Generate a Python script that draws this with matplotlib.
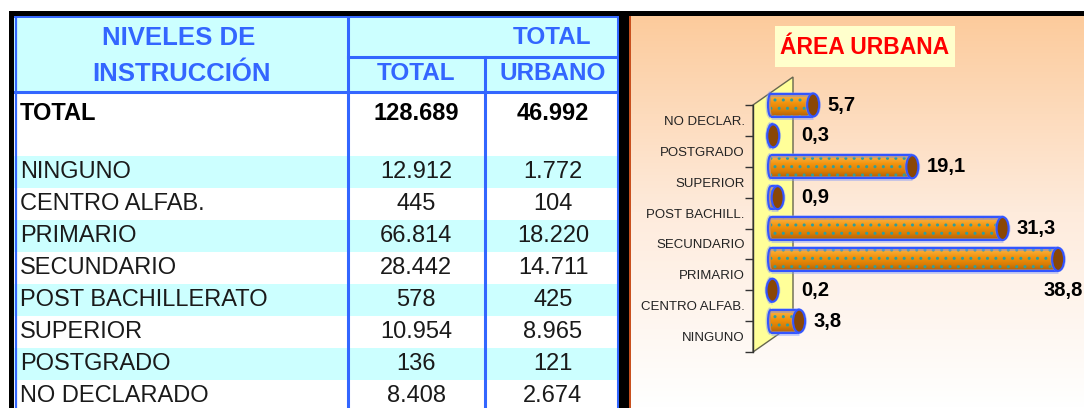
import numpy as np
import matplotlib
matplotlib.use("Agg")
import matplotlib.pyplot as plt
from matplotlib.patches import Rectangle, Ellipse, Polygon, Arc
from matplotlib.colors import LinearSegmentedColormap

plt.rcParams['font.family'] = ['Liberation Sans', 'DejaVu Sans']

# table data
levels = ["NINGUNO", "CENTRO ALFAB.", "PRIMARIO", "SECUNDARIO",
          "POST BACHILLERATO", "SUPERIOR", "POSTGRADO", "NO DECLARADO"]
total_vals = [12912, 445, 66814, 28442, 578, 10954, 136, 8408]
urban_vals = [1772, 104, 18220, 14711, 425, 8965, 121, 2674]
total_sum = 128689
urban_sum = 46992

# chart data (% of urban population), bottom to top
chart_labels = ["NINGUNO", "CENTRO ALFAB.", "PRIMARIO", "SECUNDARIO",
                "POST BACHILL.", "SUPERIOR", "POSTGRADO", "NO DECLAR."]
urban_pct = [3.8, 0.2, 38.8, 31.3, 0.9, 19.1, 0.3, 5.7]


def fmt(n):
    return f"{n:,}".replace(",", ".")


W, H = 1084, 408
fig = plt.figure(figsize=(W / 100, H / 100), dpi=100)

# background layer in pixel coordinates
bg = fig.add_axes([0, 0, 1, 1])
bg.axis('off')

# chart panel gradient
peach = LinearSegmentedColormap.from_list('peach', ['#FFFFFF', '#FEEBDC', '#FCCB9C'])
grad = np.linspace(0, 1, 256)[:, None]
bg.imshow(grad, extent=(630, W, H, 16), cmap=peach, aspect='auto', origin='lower', zorder=0)

# black frame
bg.add_patch(Rectangle((9, 11), W - 9, 5, color='black', lw=0, zorder=5))
bg.add_patch(Rectangle((9, 11), 5, H - 11, color='black', lw=0, zorder=5))
bg.add_patch(Rectangle((619, 11), 10, H - 11, color='black', lw=0, zorder=5))
bg.add_patch(Rectangle((629, 16), 1.6, H - 16, color='#C8501E', lw=0, zorder=5))

# table
cyan = '#CCFFFF'
blue = '#3366FF'
tx0, tx1 = 14, 619
c1, c2 = 347.5, 484.5
head_top, head_mid, head_bot = 16, 57, 91.5
row0, row_h = 156, 32
col2_x, col3_x = 416, 553

bg.add_patch(Rectangle((tx0, head_top), tx1 - tx0, head_bot - head_top, color=cyan, lw=0, zorder=1))
for i in range(len(levels)):
    if i % 2 == 0:
        bg.add_patch(Rectangle((tx0, row0 + i * row_h), tx1 - tx0, row_h, color=cyan, lw=0, zorder=1))

lw = 2.2
bg.plot([15.5, 15.5], [head_top, H], color=blue, lw=1.6, zorder=3)
bg.plot([tx0, tx1], [16.8, 16.8], color=blue, lw=1.4, zorder=3)
bg.plot([617.5, 617.5], [head_top, H], color=blue, lw=lw, zorder=3)
bg.plot([tx0, tx1], [head_bot, head_bot], color=blue, lw=lw, zorder=3)
bg.plot([c1, c1], [head_top, H], color=blue, lw=lw, zorder=3)
bg.plot([c2, c2], [head_mid, H], color=blue, lw=lw, zorder=3)
bg.plot([c1, tx1], [head_mid, head_mid], color=blue, lw=lw, zorder=3)

head_kw = dict(color=blue, fontweight='bold', ha='center', va='center', zorder=4)
bg.text(179, 38, "NIVELES DE", fontsize=18.5, **head_kw)
bg.text(182, 74, "INSTRUCCIÓN", fontsize=18.5, **head_kw)
bg.text(552, 38, "TOTAL", fontsize=17.5, **head_kw)
bg.text(col2_x, 74, "TOTAL", fontsize=17.5, **head_kw)
bg.text(col3_x, 74, "URBANO", fontsize=17.5, **head_kw)

tot_kw = dict(color='black', fontweight='bold', fontsize=17, va='center', zorder=4)
bg.text(20, 114, "TOTAL", ha='left', **tot_kw)
bg.text(col2_x, 114, fmt(total_sum), ha='center', **tot_kw)
bg.text(col3_x, 114, fmt(urban_sum), ha='center', **tot_kw)

row_kw = dict(color='#1A1A1A', fontsize=17, va='center', zorder=4)
for i, (name, t, u) in enumerate(zip(levels, total_vals, urban_vals)):
    y = row0 + i * row_h + 16
    bg.text(20, y, name, ha='left', **row_kw)
    bg.text(col2_x, y, fmt(t), ha='center', **row_kw)
    bg.text(col3_x, y, fmt(u), ha='center', **row_kw)

# chart title
bg.add_patch(Rectangle((775, 26), 180, 41, fc='#FFFFCC', lw=0, zorder=2))
bg.text(865, 47, "ÁREA URBANA", color='#FF0000', fontsize=16.5, fontweight='bold',
        ha='center', va='center', zorder=3)

bg.set_xlim(0, W)
bg.set_ylim(H, 0)

# bar chart
ax_left_px, x0_px, px_per_unit = 753, 771, 7.4
ax_top_px, ax_bot_px = 105, 352
n = len(chart_labels)
ax = fig.add_axes([ax_left_px / W, 1 - ax_bot_px / H,
                   (W - ax_left_px) / W, (ax_bot_px - ax_top_px) / H])
ax.patch.set_alpha(0)
xl = -(x0_px - ax_left_px) / px_per_unit
xr = (W - x0_px) / px_per_unit
unit_px = (ax_bot_px - ax_top_px) / n

for s in ['top', 'right', 'bottom']:
    ax.spines[s].set_visible(False)
ax.spines['left'].set_color('#333333')
ax.spines['left'].set_linewidth(1.0)
ax.set_xticks([])
ax.set_yticks(range(n), labels=chart_labels, fontsize=9.5, color='#222222')
ax.set_yticks(np.arange(-0.5, n, 1), minor=True)
ax.tick_params(axis='y', which='major', length=0, pad=6)
ax.tick_params(axis='y', which='minor', length=6, width=1, color='#333333')

# back wall
dx = 40 / px_per_unit
dy = 28 / unit_px
ax.add_patch(Polygon([(xl, -0.5), (xl, n - 0.5), (xl + dx, n - 0.5 + dy), (xl + dx, -0.5 + dy)],
                     closed=True, fc='#FFFF99', ec='#66664F', lw=1, clip_on=False, zorder=1))

# cylinders
cyl = LinearSegmentedColormap.from_list('cyl', [(0, '#B05E06'), (0.3, '#DA7E06'),
                                               (0.6, '#F2920C'), (0.85, '#F8AA34'),
                                               (1, '#EC9418')])
ypos = np.arange(n) + 0.5
bar_h = 23 / unit_px
cap_w = 12 / px_per_unit
end_w = 6 / px_per_unit
edge = '#3355FF'
glow = '#7F98FF'
for y, v in zip(ypos, urban_pct):
    im = ax.imshow(grad, extent=(0, v, y - bar_h / 2, y + bar_h / 2), cmap=cyl,
                   aspect='auto', origin='lower', zorder=3)
    im.set_clip_on(False)
    # rounded left end
    ax.add_patch(Ellipse((0, y), end_w, bar_h, fc='#E68A0E', ec='none', zorder=2.9, clip_on=False))
    for w, c, a in [(3.5, glow, 0.45), (1.5, edge, 1.0)]:
        ax.add_patch(Arc((0, y), end_w, bar_h, theta1=90, theta2=270, color=c, lw=w,
                         alpha=a, zorder=5, clip_on=False))
ax.barh(ypos, urban_pct, height=bar_h, fc='none', ec='#2E9E9E', lw=0, hatch='..',
        zorder=4, clip_on=False)
for w, c, a in [(3.5, glow, 0.45), (1.5, edge, 1.0)]:
    ax.hlines(ypos + bar_h / 2, 0, urban_pct, color=c, lw=w, alpha=a, zorder=5, clip_on=False)
    ax.hlines(ypos - bar_h / 2, 0, urban_pct, color=c, lw=w, alpha=a, zorder=5, clip_on=False)
for y, v in zip(ypos, urban_pct):
    ax.add_patch(Ellipse((v, y), cap_w + 0.5, bar_h + 0.08, fc=glow, ec='none', alpha=0.45,
                         zorder=5.5, clip_on=False))
    ax.add_patch(Ellipse((v, y), cap_w, bar_h, fc='#8A4706', ec=edge, lw=1.5,
                         zorder=6, clip_on=False))

# value labels
wall_right = xl + dx
gap = 8 / px_per_unit
lab_kw = dict(va='center', fontsize=14.5, fontweight='bold', color='black',
              clip_on=False, zorder=7)
for y, v in zip(ypos, urban_pct):
    txt = f"{v:.1f}".replace('.', ',')
    x = max(v + cap_w / 2, wall_right) + gap
    if x + 40 / px_per_unit > xr:
        # no room on the right: put it under the bar end
        ax.text(xr - 1 / px_per_unit, y - 1.0, txt, ha='right', **lab_kw)
    else:
        ax.text(x, y, txt, ha='left', **lab_kw)

ax.set_xlim(xl, xr)
ax.set_ylim(-0.5, n - 0.5)

fig.savefig('out.png', dpi=100)
